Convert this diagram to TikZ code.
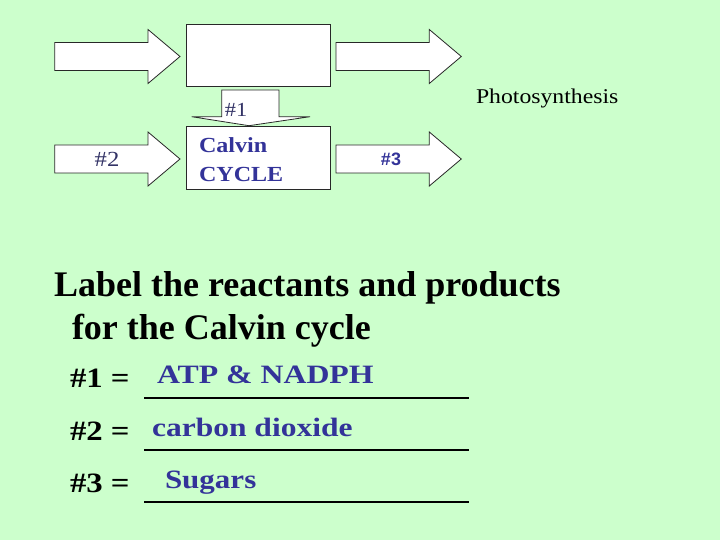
\documentclass[tikz,border=0pt]{standalone}
\usepackage{fontspec}
\setmainfont{Liberation Serif}
\newfontfamily\arialf{Liberation Sans}
\definecolor{bgcol}{RGB}{204,255,204}
\definecolor{bluetxt}{RGB}{51,51,153}
\definecolor{slatetxt}{RGB}{51,51,102}
\definecolor{edgecol}{RGB}{40,40,40}
\begin{document}
\begin{tikzpicture}[x=1pt,y=-1pt,
  blockarrow/.style={draw=edgecol,fill=white,line width=0.8pt,line join=miter},
  boxnode/.style={draw=edgecol,fill=white,line width=0.8pt,inner sep=0pt,minimum width=143.3pt,minimum height=62.5pt},
  txt/.style={inner sep=0pt,outer sep=0pt},
  head/.style={txt,font=\fontsize{36}{43}\selectfont\bfseries},
  answer/.style={txt,font=\fontsize{26.5}{30}\selectfont\bfseries,text=bluetxt},
  qlabel/.style={txt,font=\fontsize{28}{32}\selectfont\bfseries}]
\useasboundingbox (0,0) rectangle (720,540);
\fill[bgcol] (0,0) rectangle (720,540);

% block arrows pointing right
\foreach \xa/\yc in {54.7/56.5, 336/56.5, 54.7/159, 336/159}{
  \draw[blockarrow] (\xa,{\yc-14}) -- ({\xa+93.3},{\yc-14}) -- ({\xa+93.3},{\yc-27}) -- ({\xa+125.3},\yc)
    -- ({\xa+93.3},{\yc+27}) -- ({\xa+93.3},{\yc+14}) -- (\xa,{\yc+14}) -- cycle;
}

% down arrow #1
\draw[blockarrow] (221.7,90) -- (279,90) -- (279,116.7) -- (310,116.7) -- (249,125.7)
  -- (191.7,116.7) -- (221.7,116.7) -- cycle;

% boxes
\node[boxnode] (top) at (258.3,55.5) {};
\node[boxnode] (calvin) at (258.3,157.8) {};

% labels in arrows
\node[txt,anchor=base,text=slatetxt,font=\fontsize{20}{22}\selectfont] (n1) at (236,117) {\scalebox{1.12}[1]{\#1}};
\node[txt,anchor=base,text=slatetxt,font=\fontsize{21.5}{24}\selectfont] (n2) at (107,166.5) {\scalebox{1.15}[1]{\#2}};
\node[txt,anchor=base,text=bluetxt,font=\arialf\fontsize{18}{20}\selectfont\bfseries] (n3) at (391,165.5) {\#3};
\node[txt,anchor=base west,text=bluetxt,font=\fontsize{21.5}{24}\selectfont\bfseries] (cv1) at (199,153) {\scalebox{1.12}[1]{Calvin}};
\node[txt,anchor=base west,text=bluetxt,font=\fontsize{21.5}{24}\selectfont\bfseries] (cv2) at (199,181.5) {\scalebox{1.12}[1]{CYCLE}};

\node[txt,anchor=base west,font=\fontsize{21}{24}\selectfont] (photo) at (476,104) {\scalebox{1.13}[1]{Photosynthesis}};

% question text
\node[head,anchor=base west] (l1) at (54,296) {Label the reactants and products};
\node[head,anchor=base west] (l2) at (72,339) {for the Calvin cycle};

\node[qlabel,anchor=base west] (q1) at (70,387) {\scalebox{1.17}[1]{\#1 =}};
\node[qlabel,anchor=base west] (q2) at (70,440) {\scalebox{1.17}[1]{\#2 =}};
\node[qlabel,anchor=base west] (q3) at (70,492) {\scalebox{1.17}[1]{\#3 =}};

\node[answer,anchor=base west] (a1) at (157,383.5) {\scalebox{1.2}[1]{ATP \& NADPH}};
\node[answer,anchor=base west] (a2) at (152,436.5) {\scalebox{1.19}[1]{carbon dioxide}};
\node[answer,anchor=base west] (a3) at (165,488.5) {\scalebox{1.17}[1]{Sugars}};

\draw[line width=2pt] (144,397.5) -- (469,397.5);
\draw[line width=2pt] (144,450) -- (469,450);
\draw[line width=2pt] (144,502) -- (469,502);
\end{tikzpicture}
\end{document}
